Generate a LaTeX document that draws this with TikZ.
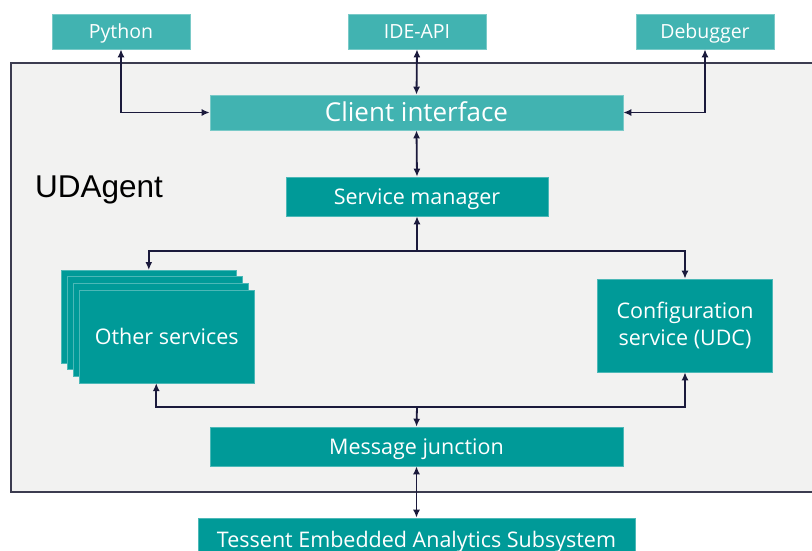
\documentclass[tikz,border=0pt]{standalone}
\usepackage{fontspec}
\setmainfont{Open Sans}
\newfontfamily\agentfont{Liberation Sans}
\usetikzlibrary{arrows.meta,calc}

\definecolor{lightteal}{HTML}{41B3B1}
\definecolor{darkteal}{HTML}{009A98}
\definecolor{panelgray}{HTML}{F2F2F1}
\definecolor{edgegray}{HTML}{3C3C50}
\definecolor{linkblue}{HTML}{1B1A3C}

\tikzset{
  box/.style={rectangle, inner sep=0pt, text=white, draw=#1!70!white, line width=0.6pt, fill=#1},
  oneline/.style={text height=#1, text depth=0pt},
  toolbox/.style={box=lightteal, oneline=13.9pt, minimum width=138pt, minimum height=35pt, font=\fontsize{19.5}{23}\selectfont},
  servbox/.style={box=darkteal, minimum width=175pt, minimum height=93pt, font=\fontsize{21.5}{27}\selectfont, align=center},
  link/.style={draw=linkblue, line width=1.8pt, -{Latex[length=8pt,width=7pt]}},
  dlink/.style={link, {Latex[length=8pt,width=7pt]}-{Latex[length=8pt,width=7pt]}}
}

\begin{document}
\begin{tikzpicture}[x=1pt, y=-1pt]

    \useasboundingbox (0,0) rectangle (812,550);

    % agent panel, runs off the right edge
    \draw[fill=panelgray, draw=edgegray, line width=1.4pt] (11,63) rectangle (840,492);
    \node[anchor=base west, inner sep=0pt, font=\agentfont\fontsize{31.5}{38}\selectfont] (agent) at (35,197) {UDAgent};

    % tools on top
    \node[toolbox] (python) at (121,31.5) {Python};
    \node[toolbox] (ideapi) at (417,31.5) {IDE-API};
    \node[toolbox] (debugger) at (705,31.5) {Debugger};

    \node[box=lightteal, oneline=18.6pt, minimum width=413pt, minimum height=35pt, font=\fontsize{26}{30}\selectfont] (client) at (416.5,112.5) {Client interface};
    \node[box=darkteal, oneline=15.4pt, minimum width=262pt, minimum height=39pt, font=\fontsize{21.5}{26}\selectfont] (manager) at (417,196.5) {Service manager};

    % stacked services
    \foreach \dx/\dy/\name in {0/0/other1, 6/6/other2, 11.5/13/other3, 18/19.5/other}
    {
      \node[servbox, anchor=north west] (\name) at (61+\dx,270+\dy) {};
    }
    \node[oneline=15.4pt, font=\fontsize{21.5}{27}\selectfont, text=white] (othertext) at (other.center) {Other services};
    \node[servbox] (udc) at (685,325.5) {Configuration\\service (UDC)};

    \node[box=darkteal, oneline=15.4pt, minimum width=413pt, minimum height=39pt, font=\fontsize{21.5}{26}\selectfont] (junction) at (416.5,446.5) {Message junction};
    \node[box=darkteal, oneline=15.4pt, minimum width=437pt, minimum height=44pt, font=\fontsize{21.5}{26}\selectfont] (tessent) at (416.5,540) {Tessent Embedded Analytics Subsystem};

    \coordinate (topbus) at (417,251);
    \coordinate (lowbus) at (417,407);

    \draw[dlink] (python.south) |- (client.west);
    \draw[dlink] (ideapi.south) -- (client.north);
    \draw[dlink] (debugger.south) |- (client.east);
    \draw[dlink] (client.south) -- (manager.north);

    \draw[link] (topbus) -- (manager.south);
    \draw[link] (topbus) -| (other1.north);
    \draw[link] (topbus) -| (udc.north);

    \draw[link] (lowbus) -| ($(other.south west)!0.44!(other.south east)$);
    \draw[link] (lowbus) -| (udc.south);
    \draw[link] (lowbus) -- (junction.north);
    \draw[dlink] (junction.south) -- (tessent.north);
\end{tikzpicture}
\end{document}
